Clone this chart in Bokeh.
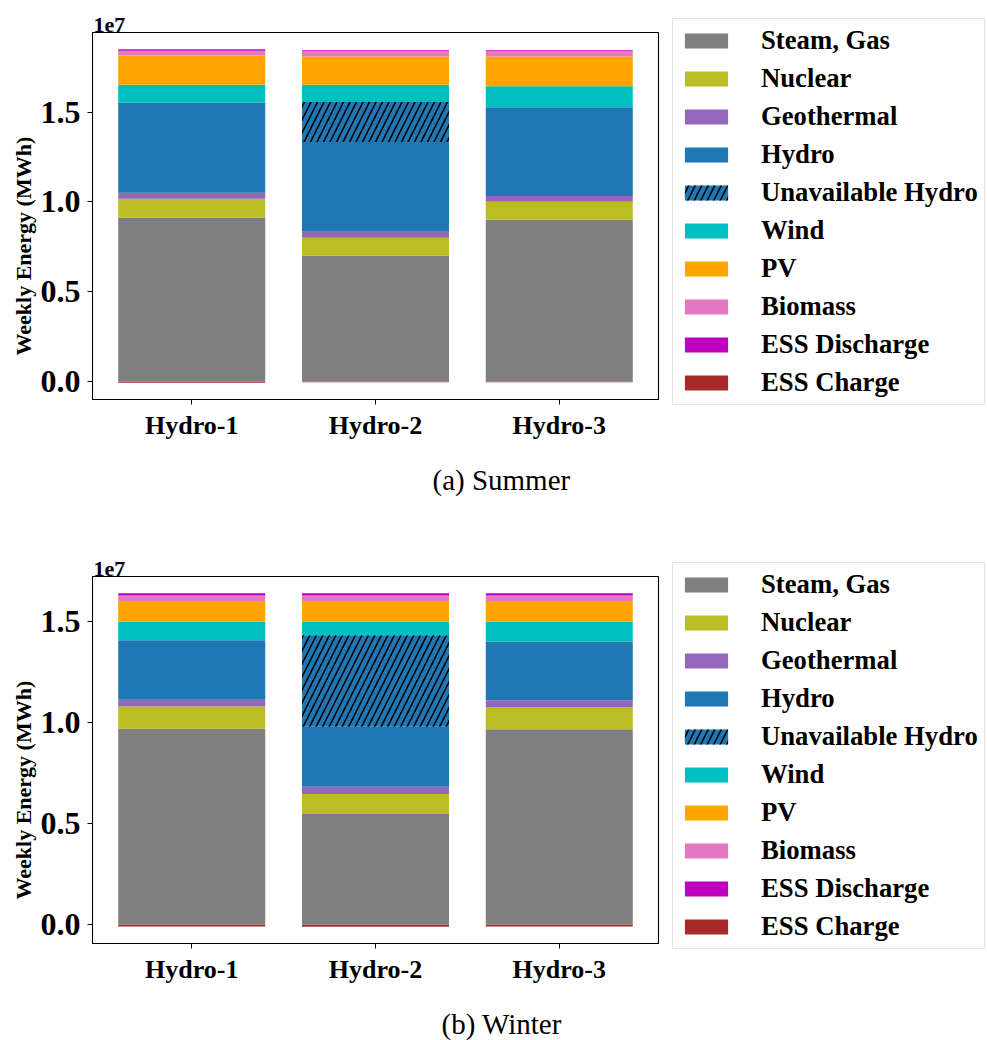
from bokeh.plotting import figure
from bokeh.models import (FactorRange, Range1d, Legend, LegendItem, Title,
                          FixedTicker, CustomJSTickFormatter, ColumnDataSource)
from bokeh.layouts import column
from bokeh.embed import file_html
from bokeh.resources import INLINE

categories = ["Hydro-1", "Hydro-2", "Hydro-3"]
layer_keys = ["steam", "nuclear", "geo", "hydro", "unavail", "wind", "pv", "bio", "ess_dis"]
layer_names = ["Steam, Gas", "Nuclear", "Geothermal", "Hydro", "Unavailable Hydro",
               "Wind", "PV", "Biomass", "ESS Discharge"]
charge_name = "ESS Charge"
y_ticks = [0, 5e6, 1e7, 1.5e7]
y_label = "Weekly Energy (MWh)"

# Summer weekly energy (MWh)
summer_steam = [9.13e6, 7.00e6, 9.00e6]
summer_nuclear = [1.04e6, 1.00e6, 1.00e6]
summer_geo = [0.33e6, 0.33e6, 0.33e6]
summer_hydro = [5.02e6, 5.00e6, 4.93e6]
summer_unavail = [0.0, 2.23e6, 0.0]
summer_wind = [1.00e6, 0.96e6, 1.18e6]
summer_pv = [1.63e6, 1.57e6, 1.65e6]
summer_bio = [0.26e6, 0.30e6, 0.30e6]
summer_ess_dis = [0.09e6, 0.05e6, 0.05e6]
summer_ess_charge = [-0.08e6, -0.05e6, -0.05e6]

# Winter weekly energy (MWh)
winter_steam = [9.70e6, 5.47e6, 9.67e6]
winter_nuclear = [1.10e6, 1.00e6, 1.11e6]
winter_geo = [0.34e6, 0.35e6, 0.33e6]
winter_hydro = [2.95e6, 2.98e6, 2.92e6]
winter_unavail = [0.0, 4.53e6, 0.0]
winter_wind = [0.93e6, 0.69e6, 0.99e6]
winter_pv = [1.01e6, 1.01e6, 1.01e6]
winter_bio = [0.27e6, 0.27e6, 0.27e6]
winter_ess_dis = [0.12e6, 0.12e6, 0.12e6]
winter_ess_charge = [-0.10e6, -0.12e6, -0.10e6]

layer_colors = ["#7f7f7f", "#bcbd22", "#9467bd", "#1f77b4", "#1f77b4",
                "#00bfbf", "#ffa500", "#e377c2", "#bf00bf"]
charge_color = "#a52a2a"

FONT = "Liberation Serif"


def make_panel(layers, charge, caption, caption_offset, bottom_border):
    data = dict(x=categories, charge=charge)
    for k, v in zip(layer_keys, layers):
        data[k] = v
    src = ColumnDataSource(data)
    totals = [sum(col[i] for col in layers) for i in range(len(categories))]
    ymax = max(totals)
    ymin = min(min(charge), 0)
    pad = 0.05 * (ymax - ymin)

    p = figure(x_range=FactorRange(factors=categories, range_padding=0.08 / 3),
               y_range=Range1d(ymin - pad, ymax + pad),
               frame_width=566, frame_height=367,
               min_border_left=92, min_border_right=329,
               min_border_top=32, min_border_bottom=bottom_border,
               output_backend="svg", toolbar_location=None)
    p.background_fill_color = "white"
    p.border_fill_color = "white"
    p.outline_line_color = "black"
    p.outline_line_width = 1.1
    p.xgrid.visible = False
    p.ygrid.visible = False

    rc = p.vbar(x="x", top="charge", bottom=0, width=0.8, source=src,
                fill_color=charge_color, line_color=None)
    rs = p.vbar_stack(layer_keys, x="x", width=0.8, source=src,
                      fill_color=layer_colors, line_color=None)
    hr = rs[layer_keys.index("unavail")]
    hr.glyph.hatch_pattern = "/"
    hr.glyph.hatch_color = "black"
    hr.glyph.hatch_weight = 1.6
    hr.glyph.hatch_scale = 13

    # axes
    xa = p.xaxis[0]
    xa.major_label_text_font = FONT
    xa.major_label_text_font_style = "bold"
    xa.major_label_text_font_size = "26px"
    xa.major_label_text_color = "black"
    xa.major_tick_out = 5
    xa.major_tick_in = 0
    xa.major_label_standoff = 6
    xa.axis_line_color = "black"
    xa.major_tick_line_color = "black"

    ya = p.yaxis[0]
    ya.ticker = FixedTicker(ticks=y_ticks, minor_ticks=[])
    ya.formatter = CustomJSTickFormatter(code="return (tick / 1e7).toFixed(1);")
    ya.major_label_text_font = FONT
    ya.major_label_text_font_style = "bold"
    ya.major_label_text_font_size = "32px"
    ya.major_label_text_color = "black"
    ya.major_tick_out = 5
    ya.major_tick_in = 0
    ya.minor_tick_out = 0
    ya.minor_tick_in = 0
    ya.major_label_standoff = 7
    ya.axis_line_color = "black"
    ya.major_tick_line_color = "black"

    # y label (placed as a side title so it can sit where the original does)
    yl = Title(text=y_label, align="left", offset=44, vertical_align="bottom",
               standoff=4, text_font=FONT, text_font_style="bold",
               text_font_size="22px", text_color="black")
    p.add_layout(yl, "left")

    # offset text above the frame
    p.title.text = "1e7"
    p.title.align = "left"
    p.title.offset = 1
    p.title.standoff = 2
    p.title.text_font = FONT
    p.title.text_font_style = "bold"
    p.title.text_font_size = "22px"
    p.title.text_color = "black"

    # caption below
    cap = Title(text=caption, align="left", offset=caption_offset, standoff=38,
                text_font=FONT, text_font_style="normal", text_font_size="29px",
                text_color="black")
    p.add_layout(cap, "below")

    items = [LegendItem(label=n, renderers=[r]) for n, r in zip(layer_names, rs)]
    items.append(LegendItem(label=charge_name, renderers=[rc]))
    legend = Legend(items=items, location=(14, -6), margin=0, padding=6,
                    spacing=7, glyph_width=54, glyph_height=19, label_standoff=28,
                    label_height=31,
                    label_text_font=FONT, label_text_font_style="bold",
                    label_text_font_size="26.7px", label_text_color="black",
                    border_line_color="#cccccc", border_line_width=1,
                    background_fill_color="white", background_fill_alpha=1)
    p.add_layout(legend, "right")
    return p


summer_layers = [summer_steam, summer_nuclear, summer_geo, summer_hydro, summer_unavail,
                 summer_wind, summer_pv, summer_bio, summer_ess_dis]
winter_layers = [winter_steam, winter_nuclear, winter_geo, winter_hydro, winter_unavail,
                 winter_wind, winter_pv, winter_bio, winter_ess_dis]

p1 = make_panel(summer_layers, summer_ess_charge, "(a) Summer", 340, 145)
p2 = make_panel(winter_layers, winter_ess_charge, "(b) Winter", 349, 95)

layout = column(p1, p2, spacing=0)
open("out.html", "w").write(file_html(layout, INLINE))
